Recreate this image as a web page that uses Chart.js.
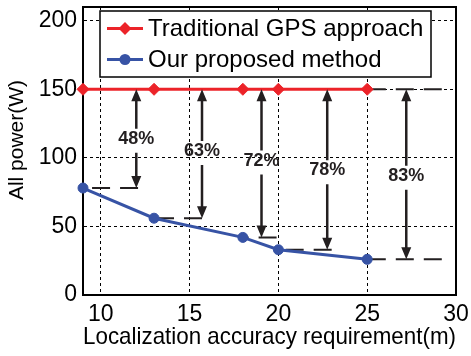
<!DOCTYPE html>
<html>
<head>
<meta charset="utf-8">
<script src="https://cdn.jsdelivr.net/npm/chart.js@4.4.1/dist/chart.umd.min.js"></script>
<style>
  html, body { margin: 0; padding: 0; background: #fff; }
</style>
</head>
<body>
<canvas id="powerChart" width="471" height="356"></canvas>
<script>
// Localization accuracy requirement (m)
const accuracy = [9, 13, 18, 20, 25];
// All power (W) for each approach
const gpsPower = [150, 150, 150, 150, 150];
const proposedPower = [78, 56, 42, 33, 26];

// where each saving arrow sits, where its label sits, and how far the dashed guide runs
const arrowX = [12, 15.7, 19.05, 22.75, 27.2];
const labelY = [114, 105, 98, 91, 87];
const guideEnd = [12.1, 15.7, 19.9, 23.0, 29.2];

const xTicks = [10, 15, 20, 25, 30];
const yTicks = [0, 50, 100, 150, 200];

const RED = "#ec2329";
const BLUE = "#3753a5";
const INK = "#231f20";
const FONT = "'Liberation Sans', Arial, sans-serif";

// saving relative to GPS, e.g. 1 - 78/150 -> 48%
const savings = proposedPower.map((p, i) => Math.round((1 - p / gpsPower[i]) * 100) + "%");

const guideStyle = {
  borderColor: INK,
  borderWidth: 2,
  borderDash: [18, 10],
  pointRadius: 0,
  fill: false,
  clip: false,
};

// dashed guides run from the arrow back toward the point
const guides = proposedPower.map((p, i) => ({
  ...guideStyle,
  label: "guide" + i,
  data: [{ x: guideEnd[i], y: p }, { x: accuracy[i], y: p }],
}));
guides.push({
  ...guideStyle,
  label: "gpsGuide",
  data: [{ x: guideEnd[4], y: gpsPower[4] }, { x: accuracy[4], y: gpsPower[4] }],
});

function drawMarker(ctx, style, color, x, y, r) {
  ctx.beginPath();
  if (style === "rectRot") {
    ctx.moveTo(x, y - r);
    ctx.lineTo(x + r, y);
    ctx.lineTo(x, y + r);
    ctx.lineTo(x - r, y);
    ctx.closePath();
  } else {
    ctx.arc(x, y, r, 0, Math.PI * 2);
  }
  ctx.fillStyle = color;
  ctx.fill();
}

// arrows, percentage labels, frame, legend and y title
const decorations = {
  id: "decorations",
  beforeDatasetsDraw(chart) {
    const { ctx, chartArea: a } = chart;
    ctx.save();
    ctx.strokeStyle = "#000";
    ctx.lineWidth = 2;
    ctx.beginPath();
    ctx.moveTo(a.left, a.top);
    ctx.lineTo(a.right, a.top);
    ctx.lineTo(a.right, a.bottom);
    ctx.stroke();
    ctx.restore();
  },
  afterDatasetsDraw(chart) {
    const { ctx, scales: { x, y } } = chart;
    const head = 12;
    const half = 5;
    ctx.save();
    ctx.strokeStyle = INK;
    ctx.fillStyle = INK;
    ctx.lineWidth = 2.5;
    ctx.font = "bold 18px " + FONT;
    ctx.textAlign = "center";
    ctx.textBaseline = "middle";
    arrowX.forEach((ax, i) => {
      const px = x.getPixelForValue(ax);
      const top = y.getPixelForValue(gpsPower[i]);
      const bottom = y.getPixelForValue(proposedPower[i]);
      const mid = y.getPixelForValue(labelY[i]);

      ctx.beginPath();
      ctx.moveTo(px, top + head - 1);
      ctx.lineTo(px, mid - 10);
      ctx.moveTo(px, mid + 14);
      ctx.lineTo(px, bottom - head + 1);
      ctx.stroke();

      ctx.beginPath();
      ctx.moveTo(px, top);
      ctx.lineTo(px - half, top + head);
      ctx.lineTo(px + half, top + head);
      ctx.closePath();
      ctx.moveTo(px, bottom);
      ctx.lineTo(px - half, bottom - head);
      ctx.lineTo(px + half, bottom - head);
      ctx.closePath();
      ctx.fill();

      ctx.fillText(savings[i], px, mid);
    });
    ctx.restore();
  },
  afterDraw(chart) {
    const { ctx, chartArea: a } = chart;
    ctx.save();

    // y axis title
    ctx.translate(17, 140);
    ctx.rotate(-Math.PI / 2);
    ctx.font = "21px " + FONT;
    ctx.fillStyle = "#000";
    ctx.textAlign = "center";
    ctx.textBaseline = "middle";
    ctx.fillText("All power(W)", 0, 0);
    ctx.setTransform(1, 0, 0, 1, 0, 0);

    // legend box
    const bx = a.left + 17;
    const by = a.top + 4;
    const bw = 331;
    const bh = 66;
    ctx.fillStyle = "#fff";
    ctx.fillRect(bx, by, bw, bh);
    ctx.strokeStyle = "#000";
    ctx.lineWidth = 1.5;
    ctx.strokeRect(bx, by, bw, bh);

    const rows = chart.data.datasets.slice(0, 2);
    rows.forEach((ds, i) => {
      const ry = by + 17.5 + i * 31;
      ctx.strokeStyle = ds.borderColor;
      ctx.lineWidth = 3;
      ctx.beginPath();
      ctx.moveTo(bx + 7, ry);
      ctx.lineTo(bx + 43, ry);
      ctx.stroke();
      drawMarker(ctx, ds.pointStyle, ds.borderColor, bx + 25, ry, ds.pointRadius + 0.5);
      ctx.fillStyle = "#000";
      ctx.font = "24px " + FONT;
      ctx.textAlign = "left";
      ctx.textBaseline = "middle";
      ctx.fillText(ds.label, bx + 48, ry + 1);
    });
    ctx.restore();
  },
};

new Chart(document.getElementById("powerChart"), {
  type: "line",
  data: {
    datasets: [
      {
        label: "Traditional GPS approach",
        data: accuracy.map((a, i) => ({ x: a, y: gpsPower[i] })),
        borderColor: RED,
        backgroundColor: RED,
        borderWidth: 3,
        pointStyle: "rectRot",
        pointRadius: 6,
        pointBorderWidth: 1,
        clip: false,
      },
      {
        label: "Our proposed method",
        data: accuracy.map((a, i) => ({ x: a, y: proposedPower[i] })),
        borderColor: BLUE,
        backgroundColor: BLUE,
        borderWidth: 3,
        pointStyle: "circle",
        pointRadius: 5,
        pointBorderWidth: 1,
        clip: false,
      },
      ...guides,
    ],
  },
  options: {
    responsive: false,
    animation: false,
    events: [],
    layout: { padding: { top: 6, right: 15, bottom: 4, left: 0 } },
    plugins: {
      legend: { display: false },
      tooltip: { enabled: false },
    },
    scales: {
      x: {
        type: "linear",
        min: 9,
        max: 30,
        afterBuildTicks: (scale) => {
          scale.ticks = xTicks.map((v) => ({ value: v }));
        },
        afterFit: (scale) => {
          scale.height = 57;
          scale.paddingLeft = 0;
          scale.paddingRight = 0;
        },
        ticks: {
          color: "#000",
          padding: 6,
          maxRotation: 0,
          font: { family: FONT, size: 23 },
        },
        grid: { color: "#000", lineWidth: 1, drawTicks: false },
        border: { color: "#000", width: 2, dash: [3, 3] },
        title: {
          display: true,
          text: "Localization accuracy requirement(m)",
          color: "#000",
          padding: 0,
          font: { family: FONT, size: 24 },
        },
      },
      y: {
        min: 0,
        max: 210,
        afterBuildTicks: (scale) => {
          scale.ticks = yTicks.map((v) => ({ value: v }));
        },
        afterFit: (scale) => {
          scale.width = 83;
          scale.paddingTop = 0;
          scale.paddingBottom = 0;
        },
        ticks: {
          color: "#000",
          padding: 6,
          font: { family: FONT, size: 23 },
        },
        grid: { color: "#000", lineWidth: 1, drawTicks: false },
        border: { color: "#000", width: 2, dash: [3, 3] },
      },
    },
  },
  plugins: [decorations],
});
</script>
</body>
</html>
